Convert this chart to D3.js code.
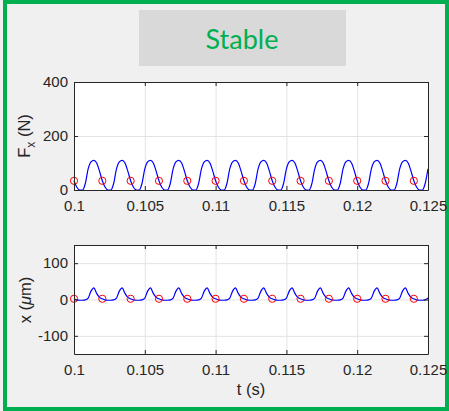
<!DOCTYPE html>
<html>
<head>
<meta charset="utf-8">
<script src="https://cdn.jsdelivr.net/npm/d3@7"></script>
<style>
  body { margin: 0; background: #f0f0f0; }
  text { font-family: "Liberation Sans", Arial, sans-serif; fill: #262626; }
  .grid line { stroke: #e3e3e3; }
  .grid path { display: none; }
  .ax path, .ax line { stroke: #262626; }
</style>
</head>
<body>
<div id="chart"></div>
<script>
// sampled signals, one sample every 0.0002 s from t = 0.1 s
const forceN = [
  34, 10, 0, 0, 24, 78, 104, 110, 100, 70,
  34, 10, 0, 0, 24, 78, 104, 110, 100, 70,
  34, 10, 0, 0, 24, 78, 104, 110, 100, 70,
  34, 10, 0, 0, 24, 78, 104, 110, 100, 70,
  34, 10, 0, 0, 24, 78, 104, 110, 100, 70,
  34, 10, 0, 0, 24, 78, 104, 110, 100, 70,
  34, 10, 0, 0, 24, 78, 104, 110, 100, 70,
  34, 10, 0, 0, 24, 78, 104, 110, 100, 70,
  34, 10, 0, 0, 24, 78, 104, 110, 100, 70,
  34, 10, 0, 0, 24, 78, 104, 110, 100, 70,
  34, 10, 0, 0, 24, 78, 104, 110, 100, 70,
  34, 10, 0, 0, 24, 78, 104, 110, 100, 70,
  34, 10, 0, 0, 24, 78
];
const dispUm = [
  2, -1, -2, -2, -1, 4, 23, 32, 17, 6,
  2, -1, -2, -2, -1, 4, 23, 32, 17, 6,
  2, -1, -2, -2, -1, 4, 23, 32, 17, 6,
  2, -1, -2, -2, -1, 4, 23, 32, 17, 6,
  2, -1, -2, -2, -1, 4, 23, 32, 17, 6,
  2, -1, -2, -2, -1, 4, 23, 32, 17, 6,
  2, -1, -2, -2, -1, 4, 23, 32, 17, 6,
  2, -1, -2, -2, -1, 4, 23, 32, 17, 6,
  2, -1, -2, -2, -1, 4, 23, 32, 17, 6,
  2, -1, -2, -2, -1, 4, 23, 32, 17, 6,
  2, -1, -2, -2, -1, 4, 23, 32, 17, 6,
  2, -1, -2, -2, -1, 4, 23, 32, 17, 6,
  2, -1, -2, -2, -1, 4
];
const timeS = d3.range(forceN.length).map(i => 0.1 + i * 0.0002);

// sampled points (red circles)
const markTime = [0.100, 0.102, 0.104, 0.106, 0.108, 0.110, 0.112, 0.114, 0.116, 0.118, 0.120, 0.122, 0.124];
const markForce = [34, 34, 34, 34, 34, 34, 34, 34, 34, 34, 34, 34, 34];
const markDisp = [2, 2, 2, 2, 2, 2, 2, 2, 2, 2, 2, 2, 2];

const xTicks = [0.1, 0.105, 0.11, 0.115, 0.12, 0.125];
const fTicks = [0, 200, 400];
const dTicks = [-100, 0, 100];

const width = 449;
const height = 411;

var svg = d3.select("#chart")
    .append("svg")
    .attr("width", width)
    .attr("height", height);

// green frame
svg.append("rect")
    .attr("x", 5).attr("y", 2)
    .attr("width", 442).attr("height", 407)
    .attr("fill", "#f0f0f0")
    .attr("stroke", "#00b050")
    .attr("stroke-width", 4);

// title box
svg.append("rect")
    .attr("x", 139).attr("y", 10)
    .attr("width", 207).attr("height", 56)
    .attr("fill", "#d9d9d9");
svg.append("text")
    .attr("x", 242).attr("y", 49)
    .attr("text-anchor", "middle")
    .style("font-family", "Lato, 'Open Sans', sans-serif")
    .style("font-size", "27px")
    .style("fill", "#00b050")
    .text("Stable");

var x = d3.scaleLinear().domain([0.1, 0.125]).range([74, 428]);
var fmt = d => String(+d.toFixed(3));

function panel(top, bottom, yDomain, yTicks, tVals, yVals, mT, mY) {
    var y = d3.scaleLinear().domain(yDomain).range([bottom, top]);
    var g = svg.append("g");

    g.append("rect")
        .attr("x", x.range()[0]).attr("y", top)
        .attr("width", x.range()[1] - x.range()[0])
        .attr("height", bottom - top)
        .attr("fill", "white");

    // grid
    g.append("g").attr("class", "grid")
        .attr("transform", "translate(0," + bottom + ")")
        .call(d3.axisBottom(x).tickValues(xTicks).tickSize(-(bottom - top)).tickFormat(""));
    g.append("g").attr("class", "grid")
        .attr("transform", "translate(" + x.range()[0] + ",0)")
        .call(d3.axisLeft(y).tickValues(yTicks).tickSize(-(x.range()[1] - x.range()[0])).tickFormat(""));

    // signal
    var line = d3.line()
        .x((d, i) => x(tVals[i]))
        .y(d => y(d))
        .curve(d3.curveMonotoneX);
    g.append("path")
        .datum(yVals)
        .attr("d", line)
        .attr("fill", "none")
        .attr("stroke", "#0000ff")
        .attr("stroke-width", 1.2);

    g.selectAll(".mark")
        .data(mT)
        .enter().append("circle")
        .attr("class", "mark")
        .attr("cx", d => x(d))
        .attr("cy", (d, i) => y(mY[i]))
        .attr("r", 3.6)
        .attr("fill", "none")
        .attr("stroke", "#ff0000")
        .attr("stroke-width", 1);

    // box axes with inward ticks
    g.append("g").attr("class", "ax")
        .attr("transform", "translate(0," + bottom + ")")
        .call(d3.axisBottom(x).tickValues(xTicks).tickSize(-4).tickSizeOuter(0).tickPadding(10).tickFormat(fmt));
    g.append("g").attr("class", "ax")
        .attr("transform", "translate(0," + top + ")")
        .call(d3.axisTop(x).tickValues(xTicks).tickSize(-4).tickSizeOuter(0).tickFormat(""));
    g.append("g").attr("class", "ax")
        .attr("transform", "translate(" + x.range()[0] + ",0)")
        .call(d3.axisLeft(y).tickValues(yTicks).tickSize(-4).tickSizeOuter(0).tickPadding(6).tickFormat(d => String(d)));
    g.append("g").attr("class", "ax")
        .attr("transform", "translate(" + x.range()[1] + ",0)")
        .call(d3.axisRight(y).tickValues(yTicks).tickSize(-4).tickSizeOuter(0).tickFormat(""));

    g.selectAll(".ax text")
        .style("font-size", "15px")
        .style("font-family", "'Liberation Sans', Arial, sans-serif")
        .attr("fill", "#262626");

    return g;
}

var top1 = panel(82, 190, [0, 400], fTicks, timeS, forceN, markTime, markForce);
var bot1 = panel(245, 354, [-150, 150], dTicks, timeS, dispUm, markTime, markDisp);

// axis labels
var fl = svg.append("text")
    .attr("transform", "translate(30,136) rotate(-90)")
    .attr("text-anchor", "middle")
    .style("font-size", "16.5px");
fl.append("tspan").text("F");
fl.append("tspan").attr("dy", 5).style("font-size", "12px").text("x");
fl.append("tspan").attr("dy", -5).text(" (N)");

var xl = svg.append("text")
    .attr("transform", "translate(31,300) rotate(-90)")
    .attr("text-anchor", "middle")
    .style("font-size", "16.5px");
xl.append("tspan").text("x (");
xl.append("tspan").style("font-style", "italic").text("\u03bc");
xl.append("tspan").text("m)");

svg.append("text")
    .attr("x", 251).attr("y", 395)
    .attr("text-anchor", "middle")
    .style("font-size", "16.5px")
    .text("t (s)");
</script>
</body>
</html>
